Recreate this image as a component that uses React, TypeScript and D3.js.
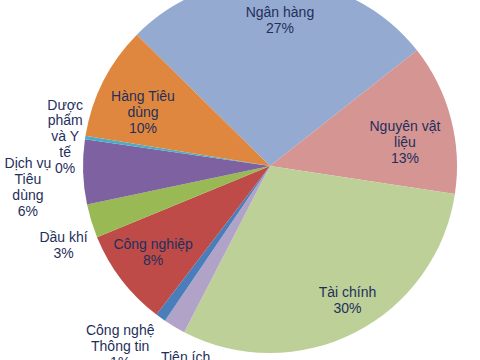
import React from "react";
import * as d3 from "d3";

const categories = [
  "Ngân hàng",
  "Nguyên vật liệu",
  "Tài chính",
  "Tiện ích",
  "Công nghệ Thông tin",
  "Công nghiệp",
  "Dầu khí",
  "Dịch vụ Tiêu dùng",
  "Dược phẩm và Y tế",
  "Hàng Tiêu dùng",
];
const values = [27.0, 13.0, 30.2, 1.9, 0.9, 8.4, 2.9, 5.6, 0.3, 9.8];
const labelLines = [
  ["Ngân hàng"],
  ["Nguyên vật", "liệu"],
  ["Tài chính"],
  ["Tiện ích"],
  ["Công nghệ", "Thông tin"],
  ["Công nghiệp"],
  ["Dầu khí"],
  ["Dịch vụ", "Tiêu", "dùng"],
  ["Dược", "phẩm", "và Y", "tế"],
  ["Hàng Tiêu", "dùng"],
];
const colors = [
  "#95AAD0",
  "#D59593",
  "#BDD098",
  "#B1A3C8",
  "#4A7EBB",
  "#BE4B48",
  "#98B954",
  "#7E61A0",
  "#4BACC6",
  "#E0873F",
];
// label anchor in polar form: [angle deg clockwise from top, radius px]
const labelPolar: [number, number][] = [
  [3.9, 146],
  [80, 137],
  [150, 155],
  [203, 216],
  [219.8, 234],
  [233.7, 145],
  [249.1, 221],
  [265, 243],
  [278.3, 207],
  [293, 138],
];

const W = 480;
const H = 360;
const cx = 270;
const cy = 166;
const R = 187;
const lineH = 15.8;

export default function App() {
  const pie = d3
    .pie<number>()
    .sort(null)
    .value((d) => d)
    .startAngle((-45.4 * Math.PI) / 180)
    .endAngle(((360 - 45.4) * Math.PI) / 180);
  const arcs = pie(values);
  const arc = d3.arc<d3.PieArcDatum<number>>().innerRadius(0).outerRadius(R);

  return (
    <svg
      width={W}
      height={H}
      style={{ position: "absolute", left: 0, top: 0, background: "#fff" }}
      fontFamily="'Liberation Sans', Arial, sans-serif"
    >
      <g transform={`translate(${cx},${cy})`}>
        {arcs.map((a, i) => (
          <path key={categories[i]} d={arc(a) || ""} fill={colors[i]} />
        ))}
      </g>
      {arcs.map((a, i) => {
        const [deg, r] = labelPolar[i];
        const t = (deg * Math.PI) / 180;
        const x = cx + r * Math.sin(t);
        const y = cy - r * Math.cos(t);
        const lines = [...labelLines[i], `${Math.round(values[i])}%`];
        const y0 = y - ((lines.length - 1) * lineH) / 2;
        return (
          <text
            key={"l" + i}
            x={x}
            y={y0}
            textAnchor="middle"
            fontSize={14}
            fill="#1F2F5C"
            dominantBaseline="central"
          >
            {lines.map((s, j) => (
              <tspan key={j} x={x} y={y0 + j * lineH}>
                {s}
              </tspan>
            ))}
          </text>
        );
      })}
    </svg>
  );
}
